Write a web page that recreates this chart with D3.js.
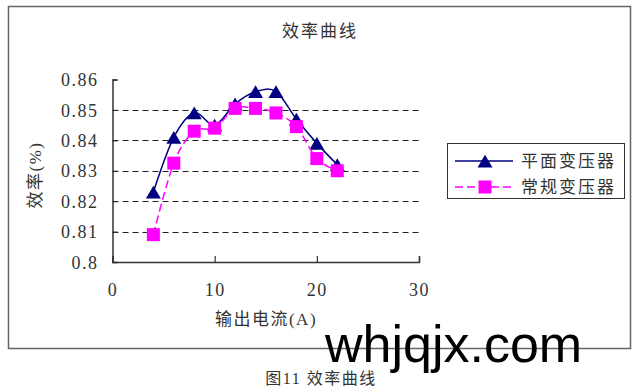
<!DOCTYPE html>
<html>
<head>
<meta charset="utf-8">
<script src="https://cdn.jsdelivr.net/npm/d3@7"></script>
<style>
html,body{margin:0;padding:0;background:#fff;}
svg{display:block;}
</style>
</head>
<body>
<div id="chart"></div>
<script>
// ---- data ----
const currents = [4, 6, 8, 10, 12, 14, 16, 18, 20, 22];
const planarEff = [0.823, 0.841, 0.849, 0.845, 0.852, 0.856, 0.856, 0.847, 0.839, 0.832];
const convEff   = [0.809, 0.8325, 0.843, 0.844, 0.8505, 0.8505, 0.849, 0.8445, 0.834, 0.830];
const seriesNames = ["平面变压器", "常规变压器"];
const yTickValues = [0.8, 0.81, 0.82, 0.83, 0.84, 0.85, 0.86];
const yTickLabels = ["0.8", "0.81", "0.82", "0.83", "0.84", "0.85", "0.86"];
const xTickValues = [0, 10, 20, 30];
const xTickLabels = ["0", "10", "20", "30"];
const titleText = "效率曲线";
const xTitle = "输出电流(A)";
const yTitle = "效率(%)";
const captionText = "图11 效率曲线";
const watermark = "whjqjx.com";

const W = 640, H = 391;
const svg = d3.select("#chart").append("svg").attr("width", W).attr("height", H);
svg.append("rect").attr("width", W).attr("height", H).attr("fill", "#fff");

const latin = "'Liberation Serif', 'Noto Sans CJK SC', serif";
const cjk = "'Noto Sans CJK SC', sans-serif";
const textCol = "#333";

// outer frame
svg.append("rect").attr("x", 8.5).attr("y", 6.5).attr("width", 622).attr("height", 342)
  .attr("fill", "none").attr("stroke", "#666").attr("stroke-width", 1.5);

const x = d3.scaleLinear().domain([0, 30]).range([112.5, 419]);
const y = d3.scaleLinear().domain([0.8, 0.86]).range([262, 79.5]);

// gridlines
svg.append("g").selectAll("line").data(yTickValues.filter(v => v > 0.8 && v < 0.86)).join("line")
  .attr("x1", x(0)).attr("x2", x(30)).attr("y1", d => Math.round(y(d)) + 0.5).attr("y2", d => Math.round(y(d)) + 0.5)
  .attr("stroke", "#222").attr("stroke-width", 1).attr("stroke-dasharray", "6,4");

// axes
const yAxis = d3.axisLeft(y).tickValues(yTickValues)
  .tickFormat((d, i) => yTickLabels[i]).tickSize(-5).tickPadding(14);
const gy = svg.append("g").attr("transform", `translate(${x(0)},0)`).call(yAxis);
const xAxis = d3.axisBottom(x).tickValues(xTickValues)
  .tickFormat((d, i) => xTickLabels[i]).tickSize(-6).tickPadding(21);
const gx = svg.append("g").attr("transform", `translate(0,${y(0.8)})`).call(xAxis);
[gx, gy].forEach(g => {
  g.select(".domain").attr("stroke", "#333").attr("stroke-width", 1.5);
  g.selectAll(".tick line").attr("stroke", "#333").attr("stroke-width", 1.2);
  g.selectAll(".tick text").attr("fill", textCol).style("font-family", latin)
    .style("font-size", "18px").style("letter-spacing", "1.5px");
});
gy.selectAll(".tick text").attr("dy", "0.34em");

// series
const pts1 = currents.map((c, i) => [c, planarEff[i]]);
const pts2 = currents.map((c, i) => [c, convEff[i]]);
const line = d3.line().x(d => x(d[0])).y(d => y(d[1])).curve(d3.curveCatmullRom.alpha(0));

const navy = "#000080", mag = "#FF00FF";
const triPath = s => { const h = s * 0.85; return `M0,${-h/2}L${s/2},${h/2}L${-s/2},${h/2}Z`; };

svg.append("path").attr("d", line(pts1)).attr("fill", "none").attr("stroke", navy).attr("stroke-width", 1.5);
svg.append("g").selectAll("path").data(pts1).join("path")
  .attr("d", triPath(15)).attr("transform", d => `translate(${x(d[0])},${y(d[1])})`).attr("fill", navy);

svg.append("path").attr("d", line(pts2)).attr("fill", "none").attr("stroke", mag).attr("stroke-width", 1.5)
  .attr("stroke-dasharray", "8,4");
svg.append("g").selectAll("rect").data(pts2).join("rect")
  .attr("x", d => x(d[0]) - 6.5).attr("y", d => y(d[1]) - 6.5).attr("width", 13).attr("height", 13).attr("fill", mag);

// title
svg.append("text").attr("x", 320).attr("y", 37).attr("text-anchor", "middle")
  .style("font-family", cjk).style("font-size", "17px").style("letter-spacing", "2px")
  .attr("fill", textCol).text(titleText);

// axis titles
svg.append("text").attr("x", 266).attr("y", 325).attr("text-anchor", "middle")
  .style("font-family", latin).style("font-size", "17px").style("letter-spacing", "1.5px")
  .attr("fill", textCol).text(xTitle);
svg.append("text").attr("transform", "translate(41,175) rotate(-90)").attr("text-anchor", "middle")
  .style("font-family", latin).style("font-size", "17px").style("letter-spacing", "1.5px")
  .attr("fill", textCol).text(yTitle);

// legend
const lg = svg.append("g");
lg.append("rect").attr("x", 447.5).attr("y", 143.5).attr("width", 177).attr("height", 55)
  .attr("fill", "#fff").attr("stroke", "#333").attr("stroke-width", 1);
const rows = [161, 187];
lg.append("line").attr("x1", 455).attr("x2", 513).attr("y1", rows[0]).attr("y2", rows[0])
  .attr("stroke", navy).attr("stroke-width", 1.5);
lg.append("path").attr("d", triPath(15)).attr("transform", `translate(485,${rows[0]})`).attr("fill", navy);
lg.append("line").attr("x1", 455).attr("x2", 513).attr("y1", rows[1]).attr("y2", rows[1])
  .attr("stroke", mag).attr("stroke-width", 1.5).attr("stroke-dasharray", "8,4");
lg.append("rect").attr("x", 485 - 6.5).attr("y", rows[1] - 6.5).attr("width", 13).attr("height", 13).attr("fill", mag);
seriesNames.forEach((n, i) => {
  lg.append("text").attr("x", 521).attr("y", rows[i]).attr("dy", "0.36em")
    .style("font-family", cjk).style("font-size", "17px").style("letter-spacing", "2px")
    .attr("fill", textCol).text(n);
});

// watermark
svg.append("text").attr("x", 325).attr("y", 361.5)
  .style("font-family", "'Liberation Sans', Arial, sans-serif").style("font-size", "52px")
  .attr("fill", "#000").text(watermark);

// caption
svg.append("text").attr("x", 321).attr("y", 384).attr("text-anchor", "middle")
  .style("font-family", latin).style("font-size", "16px").style("letter-spacing", "1.5px")
  .attr("fill", textCol).text(captionText);
</script>
</body>
</html>
